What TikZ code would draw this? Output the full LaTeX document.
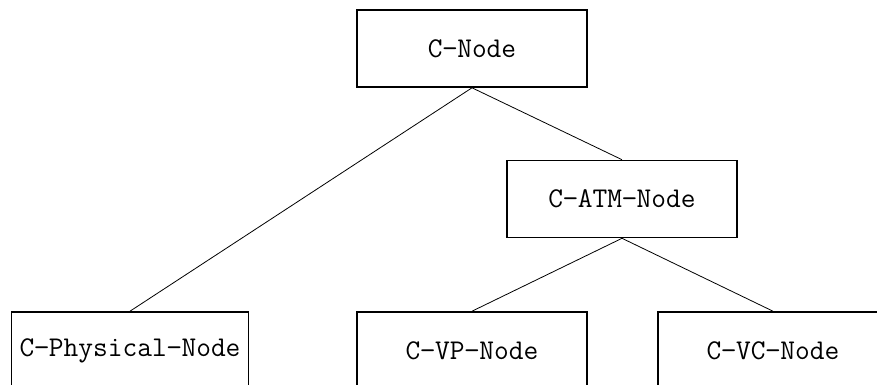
\documentclass[tikz,border=0pt]{standalone}
\usepackage{fontspec}
\begin{document}
\begin{tikzpicture}[x=1pt,y=-1pt,
  box/.style={draw,line width=1.6pt,minimum width=230pt,minimum height=77pt,
    inner xsep=8pt,font=\fontsize{28.6}{34}\selectfont\ttfamily},
  link/.style={line width=0.8pt}]
\clip (0,0) rectangle (877,385);
\node[box] (cnode) at (472,48.5) {C−Node};
\node[box] (atm) at (622,199) {C−ATM−Node};
\node[box] (phys) at (130,350.5) {C−Physical−Node};
\node[box] (vp) at (472,350.5) {C−VP−Node};
\node[box] (vc) at (773,350.5) {C−VC−Node};
\draw[link] (cnode.south) -- (phys.north);
\draw[link] (cnode.south) -- (atm.north);
\draw[link] (atm.south) -- (vp.north);
\draw[link] (atm.south) -- (vc.north);
\end{tikzpicture}
\end{document}
